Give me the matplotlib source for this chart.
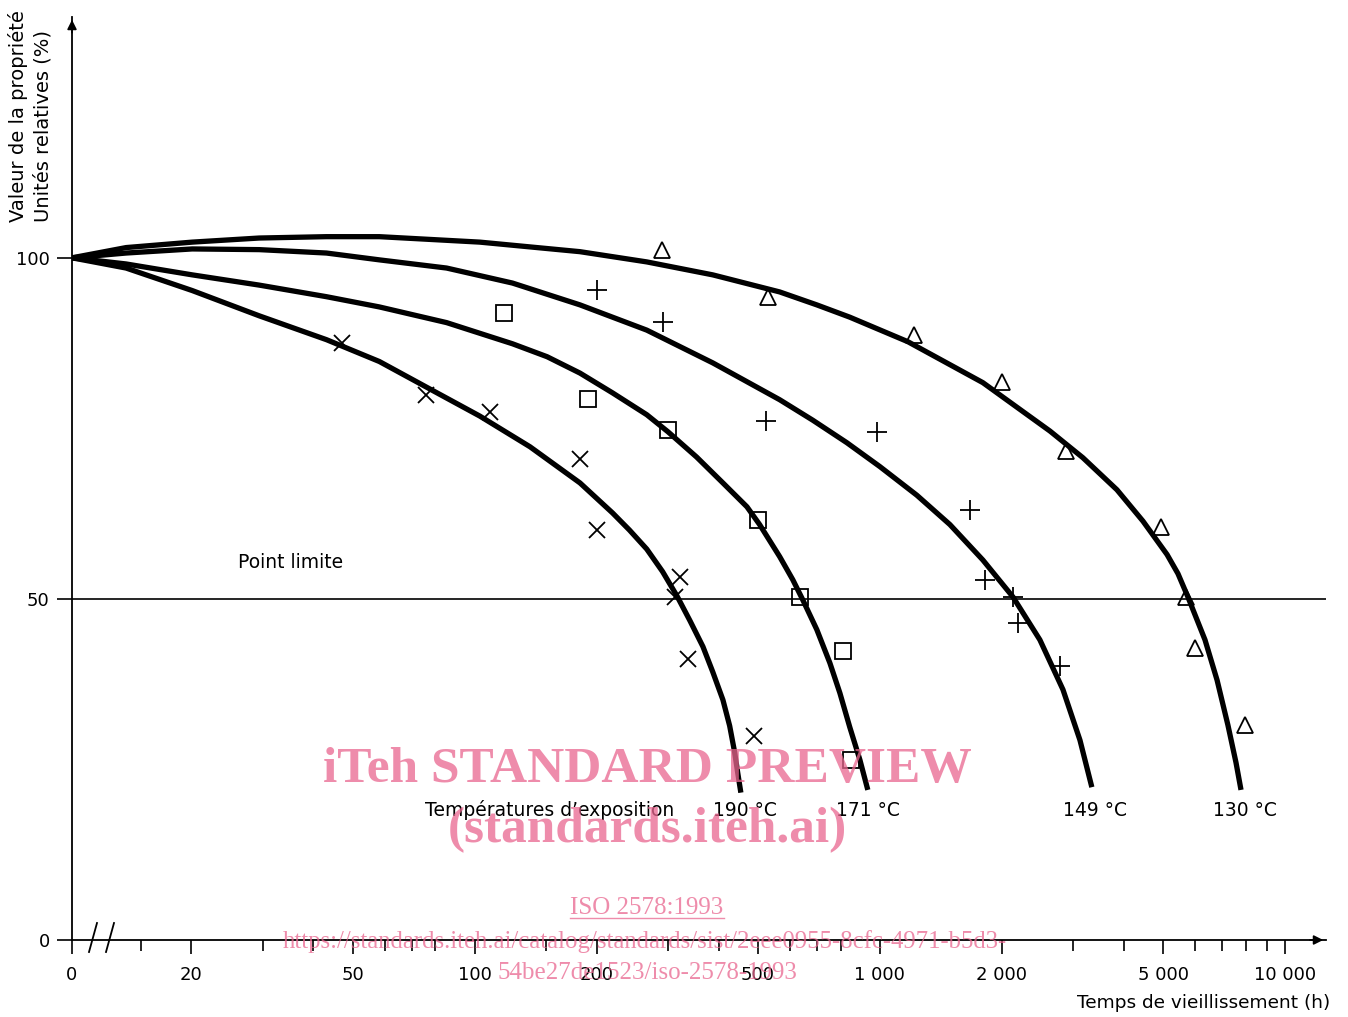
import numpy as np
import matplotlib.pyplot as plt

# ---- data (time in h, property in %) ----
t_190 = [0, 13.8, 20.1, 29.4, 43.1, 58.2, 77.4, 103, 137, 182, 219, 241, 266, 291, 316, 340, 366,
         387, 410, 426, 438, 446, 454]
v_190 = [100, 98.5, 95.2, 91.5, 88.0, 84.8, 80.8, 76.8, 72.3, 67.0, 62.6, 60.1, 57.3, 54.0, 50.4,
         46.8, 43.0, 39.3, 35.2, 31.4, 27.6, 24.5, 21.6]

t_171 = [0, 13.8, 20.1, 29.4, 43.1, 58.2, 85.3, 124, 151, 182, 219, 266, 300, 353, 410, 470, 505,
         566, 610, 645, 699, 753, 797, 843, 893, 934]
v_171 = [100, 99.1, 97.5, 96.0, 94.3, 92.8, 90.5, 87.4, 85.5, 83.1, 80.2, 77.0, 74.5, 70.8, 67.0,
         63.5, 60.9, 56.2, 52.8, 49.9, 45.5, 40.6, 36.2, 31.2, 26.4, 22.0]

t_149 = [0, 13.8, 20.1, 29.4, 43.1, 58.2, 85.3, 124, 182, 266, 387, 566, 683, 829, 1000, 1234, 1489,
         1796, 2130, 2483, 2831, 3118, 3336]
v_149 = [100, 100.7, 101.3, 101.2, 100.7, 99.7, 98.5, 96.3, 93.1, 89.4, 84.6, 79.2, 76.2, 72.9, 69.4,
         65.2, 60.9, 55.7, 50.3, 44.0, 36.7, 29.3, 22.4]

t_130 = [0, 13.8, 20.1, 29.4, 43.1, 58.2, 103, 182, 266, 387, 566, 699, 843, 1173, 1796, 2630, 3170,
         3847, 4460, 5115, 5442, 5757, 6345, 6796, 7228, 7568, 7786]
v_130 = [100, 101.5, 102.3, 102.9, 103.1, 103.1, 102.3, 100.9, 99.4, 97.5, 95.0, 93.1, 91.3, 87.7,
         81.7, 74.6, 70.7, 66.0, 61.4, 56.5, 53.7, 50.3, 44.0, 38.1, 31.5, 26.0, 22.0]

# measured points
pt_190_t = [47.2, 76, 109, 182, 201, 321, 313, 336, 489]
pt_190_v = [87.5, 79.9, 77.4, 70.5, 60.1, 53.2, 50.3, 41.2, 29.9]

pt_171_t = [118, 191, 300, 500, 634, 811, 848]
pt_171_v = [91.9, 79.3, 74.8, 61.6, 50.3, 42.4, 26.4]

pt_149_t = [200, 291, 523, 984, 1668, 1817, 2130, 2191, 2784]
pt_149_v = [95.3, 90.6, 76.1, 74.5, 63.0, 52.8, 50.3, 46.5, 40.2]

pt_130_t = [290, 529, 1213, 2000, 2878, 4943, 5698, 5997, 7965]
pt_130_v = [101.2, 94.3, 88.7, 81.8, 71.7, 60.6, 50.3, 42.8, 31.5]

temp_labels = ['190 °C', '171 °C', '149 °C', '130 °C']
temp_label_t = [464, 934, 3396, 7963]

major_ticks = [20, 50, 100, 200, 500, 1000, 2000, 5000, 10000]
major_labels = ['20', '50', '100', '200', '500', '1 000', '2 000', '5 000', '10 000']
minor_ticks = [15, 30, 40, 60, 70, 80, 150, 300, 400, 600, 700, 800,
               3000, 4000, 6000, 7000, 8000, 9000]
limit_value = 50

ORIGIN = 10.15  # where "0 h" sits on the broken log axis


def pos(t):
    t = np.asarray(t, dtype=float)
    return np.where(t == 0, ORIGIN, t)


plt.rcParams['font.family'] = ['DejaVu Sans']
fig = plt.figure(figsize=(13.48, 10.17), dpi=100)
W, H = 1348, 1017
ax = fig.add_axes([72 / W, (H - 940) / H, (1326 - 72) / W, (940 - 17) / H])

ax.set_xscale('log')
ax.set_xlim(ORIGIN, 12620)
ax.set_ylim(0, 135.3)

for t, v in [(t_190, v_190), (t_171, v_171), (t_149, v_149), (t_130, v_130)]:
    ax.plot(pos(t), v, color='black', lw=3.8, solid_capstyle='butt', solid_joinstyle='round')

ax.plot(pt_190_t, pt_190_v, 'x', color='black', ms=12, mew=1.3, ls='none')
ax.plot(pt_171_t, pt_171_v, 's', color='black', mfc='none', ms=12, mew=1.3, ls='none')
ax.plot(pt_149_t, pt_149_v, '+', color='black', ms=14, mew=1.3, ls='none')
ax.plot(pt_130_t, pt_130_v, '^', color='black', mfc='none', ms=12, mew=1.3, ls='none')

ax.axhline(limit_value, color='black', lw=1.2)
ax.text(26.0, 55.3, 'Point limite', fontsize=13.5, ha='left', va='center')

ax.text(75.4, 19, 'Températures d’exposition', fontsize=13.5, ha='left', va='center')
for lab, t in zip(temp_labels, temp_label_t):
    ax.text(t, 19, lab, fontsize=13.5, ha='center', va='center')

# axes
for s in ['top', 'right']:
    ax.spines[s].set_visible(False)
ax.spines['left'].set_linewidth(1.3)
ax.spines['bottom'].set_linewidth(1.3)
ax.set_xticks([ORIGIN] + major_ticks)
ax.set_xticklabels(['0'] + major_labels)
ax.set_xticks(minor_ticks, minor=True)
ax.xaxis.set_minor_formatter(plt.NullFormatter())
ax.tick_params(axis='x', which='major', direction='out', length=10, width=1.2, labelsize=13, pad=9)
ax.tick_params(axis='x', which='minor', direction='out', length=8, width=1.2)
ax.set_yticks([0, 50, 100])
ax.tick_params(axis='y', direction='out', length=11, width=1.2, labelsize=13, pad=5)

ax.annotate('', xy=(1.0, 0), xytext=(0.985, 0), xycoords='axes fraction',
            arrowprops=dict(arrowstyle='-|>', color='black', lw=1.2, mutation_scale=14))
ax.annotate('', xy=(0, 1.0), xytext=(0, 0.98), xycoords='axes fraction',
            arrowprops=dict(arrowstyle='-|>', color='black', lw=1.2, mutation_scale=14))

# axis break marks
for x0 in [89, 106]:
    fig.add_artist(plt.Line2D([x0 / W, (x0 + 8) / W], [(H - 952) / H, (H - 923) / H],
                              color='black', lw=1.3))

fig.text(18 / W, (H - 222) / H, 'Valeur de la propriété', rotation=90,
         fontsize=14, ha='center', va='bottom')
fig.text(43 / W, (H - 222) / H, 'Unités relatives (%)', rotation=90,
         fontsize=14, ha='center', va='bottom')
fig.text(1330 / W, (H - 1003) / H, 'Temps de vieillissement (h)', fontsize=13.3,
         ha='right', va='center')

# watermark
pink = '#e9668f'
wm = dict(color=pink, alpha=0.75, ha='center', va='center', family='Liberation Serif')
fig.text(647 / W, (H - 770) / H, 'iTeh STANDARD PREVIEW', fontsize=37, weight='bold', **wm)
fig.text(647 / W, (H - 830) / H, '(standards.iteh.ai)', fontsize=37, weight='bold', **wm)
iso = fig.text(647 / W, (H - 908) / H, 'ISO 2578:1993', fontsize=18, **wm)
fig.text(645 / W, (H - 942) / H,
         'https://standards.iteh.ai/catalog/standards/sist/2eee0955-8cfc-4971-b5d3-',
         fontsize=17.8, **wm)
fig.text(647 / W, (H - 973) / H, '54be27de1523/iso-2578-1993', fontsize=18, **wm)

fig.canvas.draw()
bb = iso.get_window_extent()
fig.add_artist(plt.Line2D([bb.x0 / W, bb.x1 / W], [(bb.y0 + 1) / H, (bb.y0 + 1) / H],
                          color=pink, alpha=0.75, lw=1))

fig.savefig('out.png', dpi=100)
